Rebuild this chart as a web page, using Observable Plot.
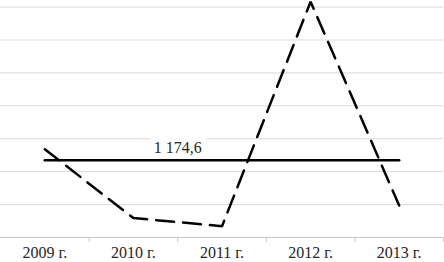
<!DOCTYPE html>
<html>
<head>
<meta charset="utf-8">
<script src="https://cdn.jsdelivr.net/npm/d3@7"></script>
<script src="https://cdn.jsdelivr.net/npm/@observablehq/plot@0.6"></script>
<style>
  html, body { margin: 0; padding: 0; background: #fff; }
  #chart svg { display: block; }
  #chart svg, #chart svg text { font-family: "Liberation Serif", "Times New Roman", serif !important; }
</style>
</head>
<body>
<div id="chart"></div>
<script>
const years = ["2009 г.", "2010 г.", "2011 г.", "2012 г.", "2013 г."];
const values = [1340, 295, 172, 3580, 486];
const average = 1174.6;
const gridValues = [500, 1000, 1500, 2000, 2500, 3000, 3500];

const fmt = d3.formatLocale({decimal: ",", thousands: " ", grouping: [3]}).format(",.1f");

const series = years.map((year, i) => ({pos: i + 0.5, year, value: values[i]}));
const avgLine = years.map((year, i) => ({pos: i + 0.5, value: average}));
const centers = years.map((_, i) => i + 0.5);
const bounds = years.map((_, i) => i + 1);
const font = "Liberation Serif";

const chart = Plot.plot({
  width: 444,
  height: 262,
  marginTop: 0,
  marginLeft: 0,
  marginRight: 1,
  marginBottom: 25,
  style: {background: "#fff", overflow: "visible"},
  x: {type: "linear", domain: [0, years.length], axis: null, label: null},
  y: {domain: [0, 3600], axis: null, label: null},
  marks: [
    Plot.ruleY(gridValues, {stroke: "#d9d9d9", strokeWidth: 1}),
    Plot.ruleY([0], {stroke: "#c8c8c8", strokeWidth: 1}),
    Plot.axisX({ticks: bounds, tickSize: 5, tickFormat: () => "", stroke: "#c8c8c8", label: null}),
    Plot.axisX({
      ticks: centers, tickSize: 0, tickPadding: 9, label: null,
      tickFormat: (d) => years[Math.round(d - 0.5)],
      fontSize: 16, fill: "#262626", fontFamily: font
    }),
    Plot.text([average], {
      x: () => (centers[1] + centers[2]) / 2, y: (d) => d,
      text: (d) => fmt(d), dy: -12, fontSize: 16, fill: "#262626", fontFamily: font,
      stroke: "#fff", strokeWidth: 14, strokeLinejoin: "round", textAnchor: "middle"
    }),
    Plot.line(avgLine, {x: "pos", y: "value", stroke: "#000", strokeWidth: 2.5}),
    Plot.line(series, {
      x: "pos", y: "value", stroke: "#000", strokeWidth: 2.5,
      strokeDasharray: "18,9", strokeLinejoin: "miter"
    })
  ]
});
document.getElementById("chart").append(chart);
</script>
</body>
</html>
